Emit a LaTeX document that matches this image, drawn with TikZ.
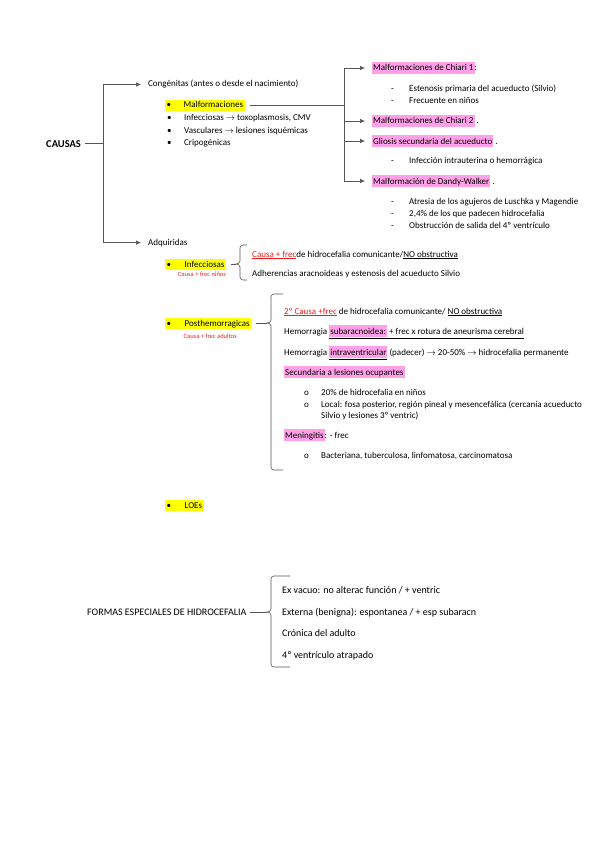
\documentclass[tikz,border=0pt]{standalone}
\usepackage{fontspec}
\setmainfont{Carlito}
\usepackage{xcolor}
\usetikzlibrary{positioning,arrows.meta,calc}
\definecolor{hlyellow}{RGB}{255,255,0}
\definecolor{hlpink}{RGB}{255,160,232}
\definecolor{notared}{RGB}{235,30,30}
\definecolor{linegray}{RGB}{85,85,85}
\newcommand{\pk}[1]{{\setlength{\fboxsep}{1pt}\colorbox{hlpink}{\vphantom{Ág}#1}}}
\newcommand{\flecha}{$\rightarrow$}
% llave: spine x, top y, tip y, bottom y, hook x
\newcommand{\llave}[5]{%
  \draw[conn] (#5,#2) -- (#1+3,#2) to[out=180,in=90] (#1,#2+3) -- (#1,#3-3)
    to[out=-90,in=0] (#1-4,#3) to[out=0,in=90] (#1,#3+3) -- (#1,#4-3)
    to[out=-90,in=180] (#1+3,#4) -- (#5,#4);}
\tikzset{
  txt/.style={anchor=base west, inner sep=0pt, font=\fontsize{9}{11}\selectfont},
  big/.style={anchor=base west, inner sep=0pt, font=\fontsize{10}{12}\selectfont},
  titulo/.style={anchor=base west, inner sep=0pt, font=\fontsize{10.5}{12}\selectfont\bfseries},
  yel/.style={txt, fill=hlyellow, inner xsep=1.5pt, inner ysep=1pt, text height=7pt, text depth=2pt},
  nota/.style={inner sep=0pt, font=\fontsize{6.5}{7}\selectfont, text=notared},
  arrow/.style={-{Latex[length=5pt,width=4.5pt]}, linegray, line width=0.6pt, shorten >=7pt},
  conn/.style={linegray, line width=0.6pt}
}

\begin{document}
\begin{tikzpicture}[x=1pt, y=-1pt]
  \useasboundingbox (0,0) rectangle (599,848);

  % causas
  \node[titulo] (causas) at (46,147) {CAUSAS};
  \node[txt] (cong) at (148,87) {Congénitas (antes o desde el nacimiento)};
  \node[txt] (adq) at (148,245) {Adquiridas};
  \draw[conn] ([xshift=4pt]causas.east) -- ++(18,0) coordinate (cj);
  \draw[arrow] (cj) |- (cong.west);
  \draw[arrow] (cj) |- (adq.west);

  % congenitas
  \node[yel] (mal) at (165,108) {\makebox[17pt][l]{\textbullet}Malformaciones};
  \node[txt] (infc) at (167,121) {\makebox[17pt][l]{\textbullet}Infecciosas \flecha{} toxoplasmosis, CMV};
  \node[txt] (vasc) at (167,134) {\makebox[17pt][l]{\textbullet}Vasculares \flecha{} lesiones isquémicas};
  \node[txt] (crip) at (167,146) {\makebox[17pt][l]{\textbullet}Cripogénicas};

  \node[txt] (ch1) at (372,71) {\pk{Malformaciones de Chiari 1}:};
  \node[txt] (est) at (391,92) {\makebox[18pt][l]{-}Estenosis primaria del acueducto (Silvio)};
  \node[txt] (frec) at (391,104) {\makebox[18pt][l]{-}Frecuente en niños};
  \node[txt] (ch2) at (372,124) {\pk{Malformaciones de Chiari 2} .};
  \node[txt] (gli) at (372,144) {\pk{Gliosis secundaria del acueducto} .};
  \node[txt] (intra) at (391,163) {\makebox[18pt][l]{-}Infección intrauterina o hemorrágica};
  \node[txt] (dw) at (372,184) {\pk{Malformación de Dandy-Walker} .};
  \node[txt] (atr) at (391,204) {\makebox[18pt][l]{-}Atresia de los agujeros de Luschka y Magendie};
  \node[txt] (porc) at (391,216) {\makebox[18pt][l]{-}2,4\% de los que padecen hidrocefalia};
  \node[txt] (obs) at (391,228) {\makebox[18pt][l]{-}Obstrucción de salida del 4º ventrículo};

  \draw[conn] ([xshift=5pt]mal.east) -- ++(95,0) coordinate (mj);
  \draw[arrow] (mj) |- (ch1.west);
  \draw[arrow] (mj) |- (ch2.west);
  \draw[arrow] (mj) |- (gli.west);
  \draw[arrow] (mj) |- (dw.west);

  % adquiridas
  \node[yel] (infec) at (165,267) {\makebox[18pt][l]{\textbullet}Infecciosas};
  \node[nota, below=1.5pt of infec.south east, anchor=north east] (nota1) {Causa + frec niños};
  \node[txt] (caus) at (252,257) {\textcolor{notared}{\underline{Causa + frec}}de hidrocefalia comunicante/\underline{NO obstructiva}};
  \node[txt] (adh) at (252,276) {Adherencias aracnoideas y estenosis del acueducto Silvio};
  \llave{240}{245}{264}{280}{247}
  \coordinate (b1) at (236,264);
  \draw[conn] ([xshift=5pt]infec.east) -- (infec.east -| b1);

  \node[yel] (post) at (165,326) {\makebox[18pt][l]{\textbullet}Posthemorragicas};
  \node[nota, below=5pt of post.south, anchor=north, xshift=2pt] (nota2) {Causa + frec adultos};
  \node[txt] (seg) at (284,314) {\textcolor{notared}{\underline{2º Causa +frec}} de hidrocefalia comunicante/ \underline{NO obstructiva}};
  \node[txt] (hsa) at (284,334) {Hemorragia \underline{\pk{subaracnoidea:} + frec x rotura de aneurisma cerebral}};
  \node[txt] (hiv) at (284,355) {Hemorragia \underline{\pk{intraventricular}} (padecer) \flecha{} 20-50\% \flecha{} hidrocefalia permanente};
  \node[txt] (sec) at (284,375) {\pk{Secundaria a lesiones ocupantes}};
  \node[txt] (o1) at (304,395) {\makebox[17pt][l]{o}20\% de hidrocefalia en niños};
  \node[txt] (o2) at (304,407) {\makebox[17pt][l]{o}Local: fosa posterior, región pineal y mesencefálica (cercanía acueducto};
  \node[txt] (o2b) at (321,418) {Silvio y lesiones 3º ventric)};
  \node[txt] (men) at (284,438) {\pk{Meningitis}: - frec};
  \node[txt] (o3) at (304,458) {\makebox[17pt][l]{o}Bacteriana, tuberculosa, linfomatosa, carcinomatosa};
  \llave{271}{294}{323}{470}{283}
  \coordinate (b2) at (267,323);
  \draw[conn] ([xshift=5pt]post.east) -- (post.east -| b2);

  \node[yel] (loe) at (165,508) {\makebox[18pt][l]{\textbullet}LOEs};

  % formas especiales
  \node[big] (formas) at (87,615.5) {FORMAS ESPECIALES DE HIDROCEFALIA};
  \node[big] (vacuo) at (282,593.5) {Ex vacuo: no alterac función / + ventric};
  \node[big] (externa) at (282,615.5) {Externa (benigna): espontanea / + esp subaracn};
  \node[big] (cronica) at (282,636.5) {Crónica del adulto};
  \node[big] (cuarto) at (282,658.5) {4º ventrículo atrapado};
  \llave{271}{576}{612}{667}{290}
  \coordinate (b3) at (267,612);
  \draw[conn] ([xshift=3pt]formas.east) -- (formas.east -| b3);
\end{tikzpicture}
\end{document}
